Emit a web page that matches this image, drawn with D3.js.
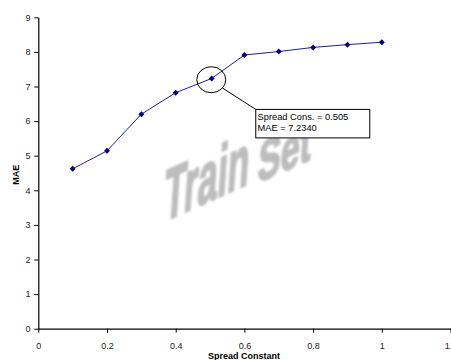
<!DOCTYPE html>
<html>
<head>
<meta charset="utf-8">
<script src="https://cdn.jsdelivr.net/npm/d3@7"></script>
<style>
  html, body { margin: 0; padding: 0; background: #fff; }
  svg { display: block; }
</style>
</head>
<body>
<div id="chart"></div>
<script>
// Spread constant vs. mean absolute error
const spreadConstant = [0.1, 0.2, 0.3, 0.4, 0.505, 0.6, 0.7, 0.8, 0.9, 1.0];
const maeValues = [4.62, 5.14, 6.20, 6.82, 7.2340, 7.91, 8.01, 8.13, 8.21, 8.28];
const xTicks = [0, 0.2, 0.4, 0.6, 0.8, 1, 1.2];
const yTicks = [0, 1, 2, 3, 4, 5, 6, 7, 8, 9];
const highlightIndex = 4;
const watermarkWords = ["Train", "Set"];

const W = 451, H = 360;
const svg = d3.select("#chart").append("svg")
  .attr("width", W).attr("height", H);

const x = d3.scaleLinear().domain([0, 1.2]).range([38.3, 450.5]);
const y = d3.scaleLinear().domain([0, 9]).range([328.7, 17.3]);

const font = "Arial, 'Liberation Sans', Helvetica, sans-serif";

// Watermark: two words slanted upward, the second one smaller (receding)
const defs = svg.append("defs");
defs.append("filter").attr("id", "soft")
  .append("feGaussianBlur").attr("stdDeviation", 0.8);

const wm = svg.append("g").attr("filter", "url(#soft)");
const wmSpec = [
  { x0: 163, y0: 222, size: 72, len: 85 },
  { x0: 257, y0: 183, size: 56, len: 53 }
];
watermarkWords.forEach((w, i) => {
  const s = wmSpec[i];
  wm.append("text")
    .attr("transform", `translate(${s.x0},${s.y0}) skewY(-24) skewX(-4)`)
    .attr("font-family", "Arial, 'Liberation Sans', sans-serif")
    .attr("font-weight", "bold")
    .attr("font-size", s.size)
    .attr("textLength", s.len)
    .attr("lengthAdjust", "spacingAndGlyphs")
    .attr("fill", "#bdbdbd")
    .attr("stroke", "#bdbdbd")
    .attr("stroke-width", 2.2)
    .attr("stroke-linejoin", "round")
    .text(w);
});

// Axes
const xAxis = d3.axisBottom(x).tickValues(xTicks).tickSize(4).tickSizeOuter(0)
  .tickFormat(d => d3.format("")(d));
const yAxis = d3.axisLeft(y).tickValues(yTicks).tickSize(4).tickSizeOuter(0);

const gx = svg.append("g").attr("transform", `translate(0,${y(0)})`).call(xAxis);
const gy = svg.append("g").attr("transform", `translate(${x(0)},0)`).call(yAxis);

[gx, gy].forEach(g => {
  g.select(".domain").attr("stroke", "#000").attr("stroke-width", 1.2);
  g.selectAll(".tick line").attr("stroke", "#000");
  g.selectAll(".tick text")
    .attr("font-family", font).attr("font-size", 9).attr("fill", "#222");
});
gx.selectAll(".tick text").attr("dy", "1.45em");
gy.selectAll(".tick text").attr("dx", "-0.1em");

// Axis titles
svg.append("text")
  .attr("x", 244).attr("y", 359)
  .attr("text-anchor", "middle")
  .attr("font-family", font).attr("font-weight", "bold").attr("font-size", 9)
  .text("Spread Constant");

svg.append("text")
  .attr("transform", `translate(19,${y(4.45)}) rotate(-90)`)
  .attr("text-anchor", "middle")
  .attr("font-family", font).attr("font-weight", "bold").attr("font-size", 9)
  .text("MAE");

// Series line and markers
const pts = spreadConstant.map((v, i) => [v, maeValues[i]]);
svg.append("path")
  .datum(pts)
  .attr("fill", "none")
  .attr("stroke", "#1f1fa3")
  .attr("stroke-width", 1)
  .attr("d", d3.line().x(d => x(d[0])).y(d => y(d[1])));

svg.selectAll(".marker").data(pts).enter().append("path")
  .attr("class", "marker")
  .attr("transform", d => `translate(${x(d[0])},${y(d[1])})`)
  .attr("d", "M0,-3L3,0L0,3L-3,0Z")
  .attr("fill", "#000080");

// Callout for the highlighted point
const hx = x(spreadConstant[highlightIndex]);
const hy = y(maeValues[highlightIndex]);
svg.append("ellipse")
  .attr("cx", hx - 0.5).attr("cy", hy + 1.3)
  .attr("rx", 14.5).attr("ry", 13)
  .attr("fill", "none").attr("stroke", "#000").attr("stroke-width", 1);

const bx = hx + 44, by = hy + 31;
svg.append("line")
  .attr("x1", hx + 10.5).attr("y1", hy + 9.5)
  .attr("x2", bx).attr("y2", by)
  .attr("stroke", "#000").attr("stroke-width", 1);

svg.append("rect")
  .attr("x", bx).attr("y", by)
  .attr("width", 114).attr("height", 28.5)
  .attr("fill", "#fff").attr("stroke", "#000").attr("stroke-width", 1);

const lines = [
  `Spread Cons. = ${d3.format(".3f")(spreadConstant[highlightIndex])}`,
  `MAE = ${d3.format(".4f")(maeValues[highlightIndex])}`
];
svg.append("g").selectAll("text").data(lines).enter().append("text")
  .attr("x", bx + 1.8)
  .attr("y", (d, i) => by + 10.5 + i * 11.5)
  .attr("font-family", font).attr("font-size", 9.3).attr("fill", "#000")
  .text(d => d);
</script>
</body>
</html>
